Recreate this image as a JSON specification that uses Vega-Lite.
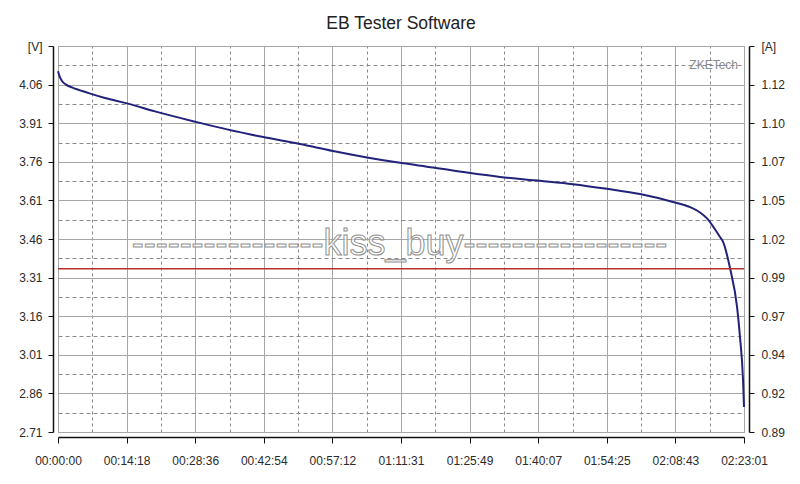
{
  "$schema": "https://vega.github.io/schema/vega-lite/v6.json",
  "width": 686,
  "height": 386,
  "autosize": {"type": "none"},
  "padding": {"left": 58, "top": 46, "right": 56, "bottom": 52},
  "background": "white",
  "title": {"text": "EB Tester Software", "fontSize": 17.5, "font": "Liberation Sans", "fontWeight": "normal", "color": "#222222", "offset": 8},
  "config": {
    "view": {"stroke": "#8c8c8c", "strokeWidth": 1},
    "axis": {"labelFont": "Liberation Sans", "labelFontSize": 12, "labelColor": "#2a2a2a", "domainColor": "#111111", "tickColor": "#111111", "labelOverlap": false, "labelFlush": false, "labelBound": false}
  },
  "datasets": {
    "voltage": [
      {"t": 0, "v": 4.112}, {"t": 20, "v": 4.092}, {"t": 50, "v": 4.074}, {"t": 100, "v": 4.060},
      {"t": 175, "v": 4.049}, {"t": 375, "v": 4.028}, {"t": 588, "v": 4.008}, {"t": 863, "v": 3.987},
      {"t": 1213, "v": 3.956}, {"t": 1714, "v": 3.916}, {"t": 2127, "v": 3.885}, {"t": 2552, "v": 3.857},
      {"t": 3027, "v": 3.829}, {"t": 3440, "v": 3.802}, {"t": 3865, "v": 3.777}, {"t": 4278, "v": 3.756},
      {"t": 4691, "v": 3.738}, {"t": 5116, "v": 3.718}, {"t": 5529, "v": 3.701}, {"t": 6029, "v": 3.686},
      {"t": 6442, "v": 3.673}, {"t": 6867, "v": 3.655}, {"t": 7280, "v": 3.635}, {"t": 7693, "v": 3.604},
      {"t": 7906, "v": 3.584}, {"t": 8031, "v": 3.563}, {"t": 8118, "v": 3.540}, {"t": 8218, "v": 3.498},
      {"t": 8281, "v": 3.468}, {"t": 8318, "v": 3.450}, {"t": 8406, "v": 3.347}, {"t": 8494, "v": 3.196},
      {"t": 8531, "v": 3.079}, {"t": 8569, "v": 2.912}, {"t": 8581, "v": 2.807}
    ],
    "current": [{"t": 0, "a": 1.0}, {"t": 8581, "a": 1.0}]
  },
  "layer": [
    {
      "data": {"values": [{}]},
      "mark": {"type": "text", "text": "----------------kiss_buy-----------------", "align": "center", "baseline": "alphabetic", "fontSize": 36, "font": "Liberation Sans", "fill": "white", "fillOpacity": 0.6, "stroke": "#8f8f8f", "strokeWidth": 1},
      "encoding": {
        "x": {
          "datum": 4272, "type": "quantitative",
          "axis": {
            "orient": "top",
            "values": [429.05, 1287.15, 2145.25, 3003.35, 3861.45, 4719.55, 5577.65, 6435.75, 7293.85, 8151.95],
            "title": null, "labels": false, "ticks": false, "domain": false,
            "grid": true, "gridColor": "#8a8a8a", "gridDash": [3, 3]
          }
        },
        "y": {
          "datum": 3.398, "type": "quantitative",
          "scale": {"domain": [2.71, 4.21], "nice": false, "zero": false},
          "axis": {
            "orient": "left",
            "values": [2.785, 2.935, 3.085, 3.235, 3.385, 3.535, 3.685, 3.835, 3.985, 4.135],
            "title": null, "labels": false, "ticks": false, "domain": false,
            "grid": true, "gridColor": "#8a8a8a", "gridDash": [4, 3]
          }
        }
      }
    },
    {
      "data": {"name": "voltage"},
      "mark": {"type": "line", "color": "#22227a", "strokeWidth": 2, "interpolate": "monotone"},
      "encoding": {
        "x": {
          "field": "t", "type": "quantitative",
          "scale": {"domain": [0, 8581], "nice": false, "zero": false},
          "axis": {
            "orient": "bottom",
            "values": [0, 858.1, 1716.2, 2574.3, 3432.4, 4290.5, 5148.6, 6006.7, 6864.8, 7722.9, 8581],
            "labelExpr": "utcFormat(round(datum.value)*1000, '%H:%M:%S')",
            "title": null,
            "offset": 5,
            "tickSize": 6,
            "labelPadding": 12,
            "domainWidth": 1.5,
            "grid": true,
            "gridColor": "#a6a6a6"
          }
        },
        "y": {
          "field": "v", "type": "quantitative",
          "scale": {"domain": [2.71, 4.21], "nice": false, "zero": false},
          "axis": {
            "orient": "left",
            "values": [2.71, 2.86, 3.01, 3.16, 3.31, 3.46, 3.61, 3.76, 3.91, 4.06, 4.21],
            "labelExpr": "datum.value > 4.2 ? '[V]' : format(datum.value, '.2f')",
            "title": null,
            "offset": 5,
            "tickSize": 5,
            "labelPadding": 6,
            "domainWidth": 1.5,
            "grid": true,
            "gridColor": "#a6a6a6"
          }
        }
      }
    },
    {
      "data": {"name": "current"},
      "mark": {"type": "line", "color": "#b8302e", "strokeWidth": 1.5},
      "encoding": {
        "x": {"field": "t", "type": "quantitative", "axis": null},
        "y": {
          "field": "a", "type": "quantitative",
          "scale": {"domain": [0.89, 1.15], "nice": false, "zero": false},
          "axis": {
            "orient": "right",
            "values": [0.89, 0.916, 0.942, 0.968, 0.994, 1.02, 1.046, 1.072, 1.098, 1.124, 1.15],
            "labelExpr": "datum.value > 1.14 ? '[A]' : format(datum.value, '.2f')",
            "title": null,
            "offset": 5,
            "tickSize": 5,
            "labelPadding": 7,
            "domainWidth": 1.5,
            "grid": false
          }
        }
      }
    },
    {
      "data": {"values": [{}]},
      "mark": {"type": "text", "text": "ZKETech", "align": "right", "baseline": "middle", "fontSize": 12, "font": "Liberation Sans", "color": "#8a8a8a", "dx": -6},
      "encoding": {
        "x": {"datum": 8581, "type": "quantitative", "axis": null},
        "y": {"datum": 4.135, "type": "quantitative", "scale": {"domain": [2.71, 4.21], "nice": false, "zero": false}, "axis": null}
      }
    }
  ],
  "resolve": {"scale": {"y": "independent"}}
}
